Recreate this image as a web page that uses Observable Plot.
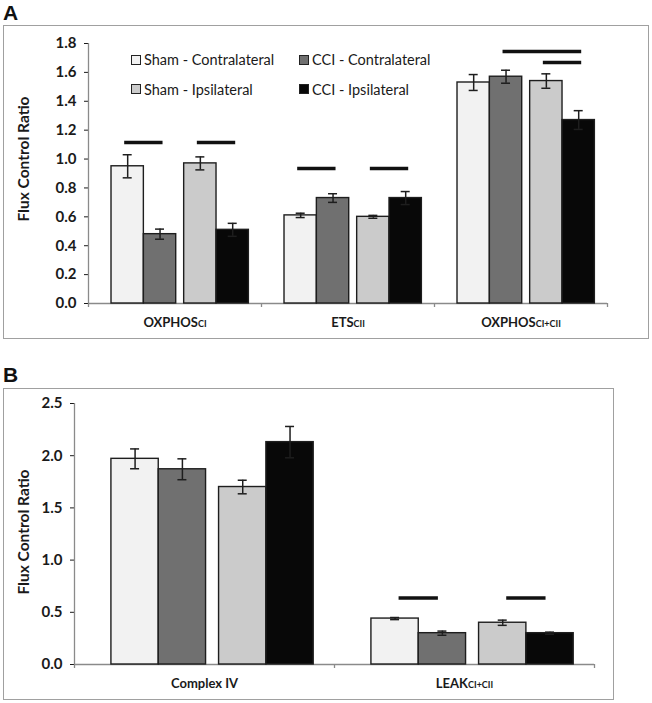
<!DOCTYPE html>
<html><head><meta charset="utf-8">
<script src="https://cdn.jsdelivr.net/npm/d3@7"></script>
<script src="https://cdn.jsdelivr.net/npm/@observablehq/plot@0.6"></script>
<style>
html,body{margin:0;padding:0;background:#fff;}
body{width:652px;height:703px;position:relative;overflow:hidden;font-family:Lato,"Open Sans",sans-serif;}
.letter{position:absolute;font-family:"Liberation Sans",Arial,sans-serif;font-weight:bold;font-size:21px;line-height:20px;color:#111;}
.box{position:absolute;border:1.5px solid #a0a0a0;box-sizing:border-box;}
.plot{position:absolute;}
.plot svg{display:block;background:transparent;}
.plot [aria-label="y-axis tick"]{stroke:#8a8a8a;}
.plot [aria-label="y-axis tick label"]{font-weight:bold;font-size:15px;fill:#1a1a1a;}
.plot [aria-label="fx-axis tick label"]{font-weight:bold;font-size:13px;fill:#1a1a1a;}
.legend-item{position:absolute;height:20px;display:flex;align-items:center;white-space:nowrap;font-family:Lato,sans-serif;font-size:14.5px;color:#1a1a1a;}
.legend-item .sw{width:8px;height:8px;border:1px solid #222;margin-right:3px;flex:none;}
</style>
</head><body>
<script>
// ---------- data ----------
const seriesNames = ["Sham - Contralateral", "CCI - Contralateral", "Sham - Ipsilateral", "CCI - Ipsilateral"];
const seriesColors = ["#f2f2f2", "#707070", "#cbcbcb", "#080808"];

// Panel A
const catsA = ["OXPHOS_CI", "ETS_CII", "OXPHOS_CI+CII"];
const meansA = [
  [0.95, 0.61, 1.53],   // Sham - Contralateral
  [0.48, 0.73, 1.57],   // CCI - Contralateral
  [0.97, 0.60, 1.54],   // Sham - Ipsilateral
  [0.51, 0.73, 1.27]    // CCI - Ipsilateral
];
const errsA = [
  [0.08, 0.015, 0.055],
  [0.035, 0.03, 0.045],
  [0.045, 0.01, 0.05],
  [0.045, 0.045, 0.065]
];
const sigA = [
  {category: "OXPHOS_CI", from: 0, to: 1, y: 1.115},
  {category: "OXPHOS_CI", from: 2, to: 3, y: 1.115},
  {category: "ETS_CII", from: 0, to: 1, y: 0.935},
  {category: "ETS_CII", from: 2, to: 3, y: 0.935},
  {category: "OXPHOS_CI+CII", from: 1, to: 3, y: 1.745},
  {category: "OXPHOS_CI+CII", from: 2, to: 3, y: 1.669}
];
const ticksA = [0, 0.2, 0.4, 0.6, 0.8, 1.0, 1.2, 1.4, 1.6, 1.8];

// Panel B
const catsB = ["Complex IV", "LEAK_CI+CII"];
const meansB = [
  [1.97, 0.44],
  [1.87, 0.30],
  [1.70, 0.40],
  [2.13, 0.30]
];
const errsB = [
  [0.095, 0.01],
  [0.10, 0.02],
  [0.065, 0.025],
  [0.15, 0.01]
];
const sigB = [
  {category: "LEAK_CI+CII", from: 0, to: 1, y: 0.636},
  {category: "LEAK_CI+CII", from: 2, to: 3, y: 0.636}
];
const ticksB = [0, 0.5, 1.0, 1.5, 2.0, 2.5];

const yLabel = "Flux Control Ratio";

// ---------- drawing ----------
const svgNS = "http://www.w3.org/2000/svg";

function panel({cats, means, errs, sig, ticks, yMax, width, height, margin, layout, labelDx, labelDy, fxPad}) {
  const rows = cats.flatMap((c, ci) => seriesNames.map((s, si) => ({
    category: c, series: s, si, value: means[si][ci], err: errs[si][ci]
  })));
  const left = i => layout.start + i * layout.bar + (i >= 2 ? layout.gap : 0);
  const center = i => left(i) + layout.bar / 2;
  const gray = "#8a8a8a";
  const dark = "#1e1e1e";
  const tickLen = -yMax * 4 / 260;
  const svg = Plot.plot({
    width, height,
    marginLeft: margin[3], marginRight: margin[1], marginTop: margin[0], marginBottom: margin[2],
    style: {fontFamily: "Lato, 'Open Sans', sans-serif", color: "#1a1a1a", background: "transparent"},
    fx: {domain: cats, paddingInner: 0, paddingOuter: 0, axis: "bottom", label: null,
         tickSize: 0, tickPadding: fxPad},
    x: {domain: [0, 1], axis: null},
    y: {domain: [0, yMax], ticks, tickFormat: d3.format(".1f"), tickSize: 4, tickPadding: 8, label: null},
    color: {domain: seriesNames, range: seriesColors},
    marks: [
      Plot.ruleY(cats, {fx: d => d, y: 0, stroke: gray, strokeWidth: 1.3}),
      Plot.ruleX(cats, {fx: d => d, x: 1, y1: tickLen, y2: 0, stroke: gray, strokeWidth: 1.3}),
      Plot.ruleX([cats[0]], {fx: d => d, x: 0, y1: tickLen, y2: yMax, stroke: gray, strokeWidth: 1.3}),
      Plot.rect(rows, {fx: "category", x1: d => left(d.si), x2: d => left(d.si) + layout.bar,
        y1: 0, y2: "value", fill: "series", stroke: dark, strokeWidth: 1.4}),
      Plot.ruleX(rows, {fx: "category", x: d => center(d.si), y1: d => d.value - d.err, y2: d => d.value + d.err,
        stroke: dark, strokeWidth: 1.5}),
      Plot.ruleY(rows, {fx: "category", x1: d => center(d.si), x2: d => center(d.si), y: d => d.value + d.err,
        stroke: dark, strokeWidth: 1.5, insetLeft: -4.5, insetRight: -4.5}),
      Plot.ruleY(rows, {fx: "category", x1: d => center(d.si), x2: d => center(d.si), y: d => d.value - d.err,
        stroke: dark, strokeWidth: 1.5, insetLeft: -4.5, insetRight: -4.5}),
      Plot.ruleY(sig, {fx: "category", x1: d => center(d.from), x2: d => center(d.to), y: "y",
        stroke: "#111", strokeWidth: 3.5, insetLeft: layout.sigInset, insetRight: layout.sigInset}),
      Plot.text([cats[0]], {fx: d => d, x: () => 0, y: () => yMax / 2, text: () => yLabel, rotate: -90,
        dx: labelDx, dy: labelDy, fontWeight: "bold", fontSize: 15.5, fill: "#1a1a1a"})
    ]
  });
  svg.querySelectorAll('[aria-label="fx-axis tick label"] text').forEach(t => {
    const [main, sub] = t.textContent.split("_");
    t.textContent = main;
    if (sub) {
      const ts = document.createElementNS(svgNS, "tspan");
      ts.setAttribute("font-size", "9");
      ts.textContent = sub;
      t.appendChild(ts);
    }
  });
  return svg;
}

function place(el, cls, x, y, w, h) {
  el.className = cls;
  Object.assign(el.style, {left: x + "px", top: y + "px"});
  if (w != null) el.style.width = w + "px";
  if (h != null) el.style.height = h + "px";
  document.body.appendChild(el);
  return el;
}

// Panel A
const letterA = document.createElement("div"); letterA.textContent = "A";
place(letterA, "letter", 3, 3);
place(document.createElement("div"), "box", 3, 25, 646, 314);
const holderA = place(document.createElement("div"), "plot", 3, 25);
holderA.appendChild(panel({
  cats: catsA, means: meansA, errs: errsA, sig: sigA, ticks: ticksA, yMax: 1.8,
  width: 646, height: 314, margin: [18, 42, 36, 84],
  layout: {start: 0.133, bar: 0.187, gap: 0.046, sigInset: -3},
  labelDx: -64, labelDy: -14.5, fxPad: 14
}));

// Legend (inside panel A)
const legendCols = [131, 299];
const legendRows = [59.5, 89];
seriesNames.forEach((name, i) => {
  const item = document.createElement("div");
  const sw = document.createElement("span");
  sw.className = "sw"; sw.style.background = seriesColors[i];
  item.appendChild(sw);
  item.appendChild(document.createTextNode(name));
  place(item, "legend-item", legendCols[i % 2], legendRows[Math.floor(i / 2)] - 10);
});

// Panel B
const letterB = document.createElement("div"); letterB.textContent = "B";
place(letterB, "letter", 3, 365);
place(document.createElement("div"), "box", 3, 388, 611, 312);
const holderB = place(document.createElement("div"), "plot", 3, 388);
holderB.appendChild(panel({
  cats: catsB, means: meansB, errs: errsB, sig: sigB, ticks: ticksB, yMax: 2.5,
  width: 611, height: 312, margin: [15, 20, 36, 70],
  layout: {start: 0.142, bar: 0.182, gap: 0.05, sigInset: 4},
  labelDx: -50, labelDy: -2, fxPad: 14
}));
</script>
</body></html>
